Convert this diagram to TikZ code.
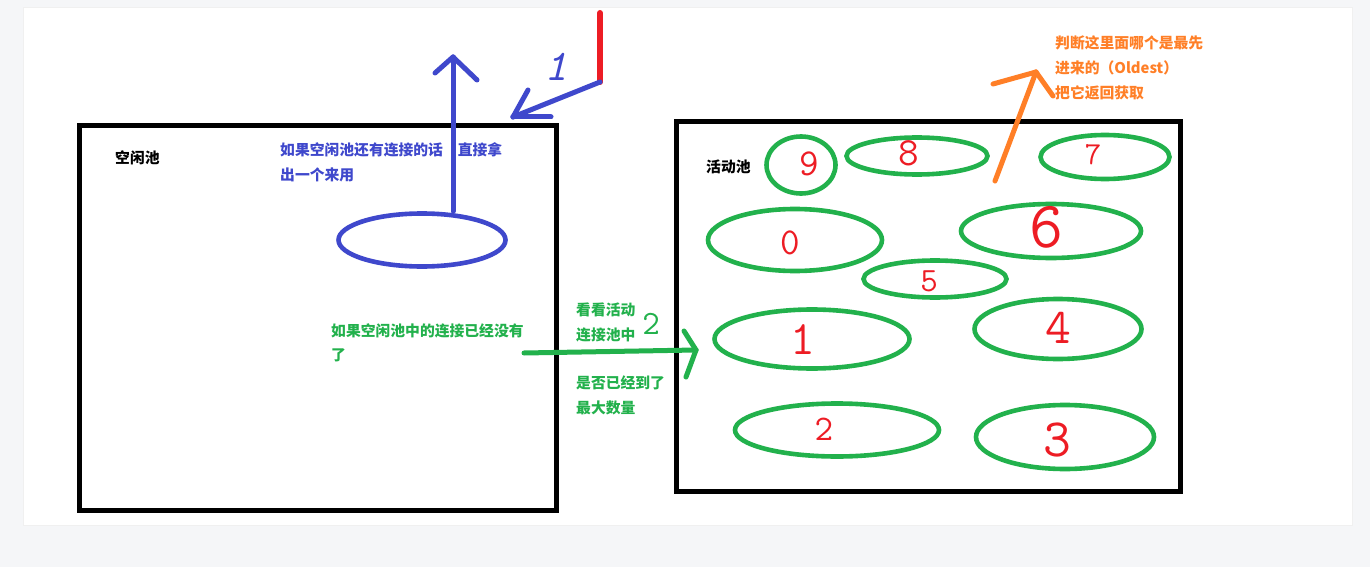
\documentclass[tikz,border=0pt]{standalone}
\usepackage{fontspec}
\newfontfamily\cjk{Noto Sans CJK SC}
\usetikzlibrary{shapes.geometric}
\definecolor{bgc}{HTML}{F5F6F8}
\definecolor{pblue}{HTML}{3F48CC}
\definecolor{pgreen}{HTML}{22B14C}
\definecolor{porange}{HTML}{FF7F27}
\definecolor{pred}{HTML}{ED1C24}
\begin{document}
\begin{tikzpicture}[x=1pt,y=-1pt,
  pool/.style={ellipse, draw=pgreen, line width=4.6pt, inner sep=0pt},
  poolbox/.style={draw=black, line width=5pt, inner sep=0pt},
  lbl/.style={font=\cjk\bfseries\fontsize{14.8}{17}\selectfont, anchor=west, inner sep=0pt},
  digit/.style={text=pred, inner sep=0pt},
  stroke/.style={line width=5pt, line cap=round, line join=round}
]
\useasboundingbox (0,0) rectangle (1370,567);
\fill[bgc] (0,0) rectangle (1370,567);
\fill[black!6] (23,7) rectangle (1353,526);
\fill[white] (24,8) rectangle (1352,525);

% pools
\node[poolbox, minimum width=476.5pt, minimum height=384.5pt] (idle) at (317.75,317.75) {};
\node[poolbox, minimum width=504pt, minimum height=370pt] (active) at (928.5,306.5) {};

\node[lbl] (idleT) at (115,158) {空闲池};
\node[lbl] (actT) at (706,166.5) {活动池};

% blue part
\node[ellipse, draw=pblue, line width=4.6pt, inner sep=0pt, minimum width=167pt, minimum height=53pt] (blob) at (422,240) {};
\node[lbl, text=pblue] (bt1) at (280,150) {如果空闲池还有连接的话　直接拿};
\node[lbl, text=pblue] (bt2) at (280,175) {出一个来用};

\coordinate (upTip) at (453,57);
\draw[pblue, stroke] (upTip |- blob.north) -- (upTip);
\draw[pblue, stroke] (upTip) -- ++(-18,16);
\draw[pblue, stroke] (upTip) -- ++(24,23);

\coordinate (redTop) at (600,13);
\coordinate (redBot) at (600,82);
\draw[pred, line width=6pt, line cap=round] (redTop) -- (redBot);

\coordinate (inTip) at (513,117);
\draw[pblue, stroke] (redBot) -- (inTip);
\draw[pblue, stroke] (inTip) -- ++(15,-27);
\draw[pblue, stroke] (inTip) -- ++(38,0);
\node[text=pblue, inner sep=0pt, font=\ttfamily\itshape\fontsize{44}{44}\selectfont] (one) at (556,67) {1};

% green part
\node[lbl, text=pgreen] (gt1) at (331,331) {如果空闲池中的连接已经没有};
\node[lbl, text=pgreen] (gt2) at (331,355) {了};
\node[lbl, text=pgreen] (gt3) at (576,310) {看看活动};
\node[lbl, text=pgreen] (gt4) at (576,335) {连接池中};
\node[lbl, text=pgreen] (gt5) at (576,383) {是否已经到了};
\node[lbl, text=pgreen] (gt6) at (576,408) {最大数量};
\node[text=pgreen, inner sep=0pt, font=\ttfamily\fontsize{34}{34}\selectfont] (two) at (651,324) {2};

\node[pool, minimum width=69pt, minimum height=57pt] (e9) at (801,165) {};
\node[pool, minimum width=141pt, minimum height=37pt] (e8) at (917,156) {};
\node[pool, minimum width=129pt, minimum height=44pt] (e7) at (1105,157) {};
\node[pool, minimum width=174pt, minimum height=62pt] (e0) at (795,240) {};
\node[pool, minimum width=180pt, minimum height=54pt] (e6) at (1051,231) {};
\node[pool, minimum width=143pt, minimum height=37pt] (e5) at (935,279) {};
\node[pool, minimum width=195pt, minimum height=59pt] (e1) at (812,339) {};
\node[pool, minimum width=167pt, minimum height=60pt] (e4) at (1058,329) {};
\node[pool, minimum width=204pt, minimum height=53pt] (e2) at (837,430) {};
\node[pool, minimum width=178pt, minimum height=64pt] (e3) at (1065,437) {};

\node[digit, font=\ttfamily\fontsize{38}{38}\selectfont] (d9) at (809,164) {9};
\node[digit, font=\ttfamily\fontsize{40}{40}\selectfont] (d8) at (909,153) {8};
\node[digit, font=\ttfamily\fontsize{32}{32}\selectfont] (d7) at (1093,155) {7};
\node[digit, font=\ttfamily\fontsize{38}{38}\selectfont] (d0) at (790,243) {0};
\node[digit, font=\ttfamily\fontsize{66}{66}\selectfont] (d6) at (1046,227) {6};
\node[digit, font=\ttfamily\fontsize{34}{34}\selectfont] (d5) at (929,281) {5};
\node[digit, font=\ttfamily\fontsize{48}{48}\selectfont] (d1) at (803,340) {1};
\node[digit, font=\ttfamily\fontsize{50}{50}\selectfont] (d4) at (1058,328) {4};
\node[digit, font=\ttfamily\fontsize{36}{36}\selectfont] (d2) at (824,429) {2};
\node[digit, font=\ttfamily\fontsize{54}{54}\selectfont] (d3) at (1057,440) {3};

\coordinate (gTail) at (524,353);
\coordinate (gTip) at (696,350);
\draw[pgreen, stroke] (gTail) -- (gTip);
\draw[pgreen, stroke] (gTip) -- ++(-12,-19);
\draw[pgreen, stroke] (gTip) -- ++(-10,27);

% orange part
\coordinate (oTail) at (995,181);
\coordinate (oTip) at (1036,72);
\draw[porange, stroke] (oTail) -- (oTip);
\draw[porange, stroke] (oTip) -- ++(-43,12);
\draw[porange, stroke] (oTip) -- ++(17,24);
\node[lbl, text=porange] (ot1) at (1055,43) {判断这里面哪个是最先};
\node[lbl, text=porange] (ot2) at (1055,68) {进来的（Oldest）};
\node[lbl, text=porange] (ot3) at (1055,93) {把它返回获取};
\end{tikzpicture}
\end{document}
